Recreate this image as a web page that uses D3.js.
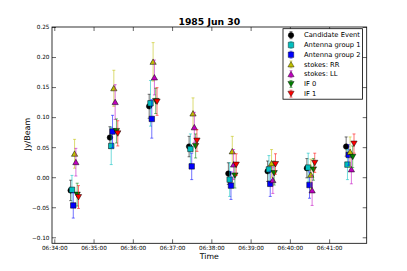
<!DOCTYPE html>
<html><head><meta charset="utf-8">
<script src="https://cdn.jsdelivr.net/npm/d3@7/dist/d3.min.js"></script>
<style>body{margin:0;background:#fff}svg{display:block}text{font-family:"DejaVu Sans",sans-serif}</style>
</head><body><div id="chart"></div>
<script>
const groupTimes = ["06:34:25","06:35:25","06:36:25","06:37:26","06:38:26","06:39:26","06:40:26","06:41:26"];
const seriesNames = ["Candidate Event","Antenna group 1","Antenna group 2","stokes: RR","stokes: LL","IF 0","IF 1"];
const seriesColors = ["#000000","#00bfbf","#0000ff","#bfbf00","#bf00bf","#008000","#ff0000"];
const seriesMarkers = ["circle","square","square","triangle-up","triangle-up","triangle-down","triangle-down"];
const seriesOffsetSec = [0,2,4,6,8,10,12];
const candidateValues = [-0.022,0.066,0.118,0.051,0.006,0.010,0.015,0.051];
const candidateErrors = [0.017,0.018,0.020,0.017,0.018,0.017,0.016,0.016];
const antenna1Values = [-0.021,0.052,0.123,0.047,-0.004,0.013,0.016,0.021];
const antenna1Errors = [0.024,0.031,0.038,0.025,0.028,0.023,0.024,0.025];
const antenna2Values = [-0.047,0.076,0.097,0.018,-0.014,-0.011,-0.013,0.037];
const antenna2Errors = [0.021,0.027,0.032,0.022,0.023,0.021,0.022,0.017];
const rrValues = [0.039,0.148,0.192,0.106,0.043,0.023,0.004,0.042];
const rrErrors = [0.024,0.030,0.032,0.026,0.025,0.023,0.026,0.025];
const llValues = [0.025,0.125,0.166,0.083,0.021,-0.005,-0.022,0.013];
const llErrors = [0.023,0.029,0.029,0.025,0.025,0.022,0.025,0.024];
const if0Values = [-0.029,0.077,0.127,0.052,0.003,0.007,0.013,0.034];
const if0Errors = [0.019,0.020,0.021,0.020,0.021,0.020,0.018,0.018];
const if1Values = [-0.033,0.073,0.126,0.061,0.021,0.022,0.024,0.056];
const if1Errors = [0.019,0.021,0.023,0.018,0.018,0.017,0.016,0.016];
const yTicks = [-0.10,-0.05,0.00,0.05,0.10,0.15,0.20,0.25];
const xTickLabels = ["06:34:00","06:35:00","06:36:00","06:37:00","06:38:00","06:39:00","06:40:00","06:41:00"];
const xDomain = ["06:33:56.5","06:41:57.4"];
const yDomain = [-0.11,0.25];

const allValues = [candidateValues,antenna1Values,antenna2Values,rrValues,llValues,if0Values,if1Values];
const allErrors = [candidateErrors,antenna1Errors,antenna2Errors,rrErrors,llErrors,if0Errors,if1Errors];

function parseT(s){const [h,m,sec]=s.split(":");return new Date(1985,5,30,+h,+m,0,Math.round(parseFloat(sec)*1000));}

const W=407,H=271;
const m={left:52,top:27,right:40.3,bottom:27.7};
const iw=W-m.left-m.right, ih=H-m.top-m.bottom;
const svg=d3.select("#chart").append("svg").attr("width",W).attr("height",H);
const g=svg.append("g").attr("transform",`translate(${m.left},${m.top})`);

function fitSize(str,target,weight){
  const t=svg.append("text").attr("font-size",10).attr("font-weight",weight||"normal").text(str);
  const w=t.node().getComputedTextLength(); t.remove(); return 10*target/w;
}
const tickFs=fitSize("06:34:00",25.7);
const legFs=fitSize("Candidate Event",56);
const titleFs=fitSize("1985 Jun 30",61.7,"bold");
const labFs=fitSize("Time",19);
const ylabFs=fitSize("Jy/Beam",32.7);

const x=d3.scaleTime().domain(xDomain.map(parseT)).range([0,iw]);
const y=d3.scaleLinear().domain(yDomain).range([ih,0]);

svg.append("text").attr("x",m.left+iw/2).attr("y",24.5).attr("text-anchor","middle")
 .attr("font-size",titleFs).attr("font-weight","bold").text("1985 Jun 30");

const tv=xTickLabels.map(parseT);
const fmtY=d=>d3.format(".2f")(d).replace("-","\u2212");
const xAxisB=d3.axisBottom(x).tickValues(tv).tickFormat(d3.timeFormat("%H:%M:%S")).tickSizeInner(-4).tickSizeOuter(0).tickPadding(2.5);
const xAxisT=d3.axisTop(x).tickValues(tv).tickFormat("").tickSizeInner(-4).tickSizeOuter(0);
const yAxisL=d3.axisLeft(y).tickValues(yTicks).tickFormat(fmtY).tickSizeInner(-4).tickSizeOuter(0).tickPadding(2.5);
const yAxisR=d3.axisRight(y).tickValues(yTicks).tickFormat("").tickSizeInner(-4).tickSizeOuter(0);
function style(sel){sel.select(".domain").remove();sel.selectAll("line").attr("stroke","#000").attr("stroke-width",0.6);
 sel.selectAll("text").attr("font-size",tickFs).attr("fill","#000").attr("font-family","DejaVu Sans, sans-serif");}
g.append("g").attr("transform",`translate(0,${ih})`).call(xAxisB).call(style);
g.append("g").call(xAxisT).call(style);
g.append("g").call(yAxisL).call(style);
g.append("g").attr("transform",`translate(${iw},0)`).call(yAxisR).call(style);
g.append("rect").attr("width",iw).attr("height",ih).attr("fill","none").attr("stroke","#000").attr("stroke-width",0.8);

svg.append("text").attr("x",m.left+iw/2).attr("y",259).attr("text-anchor","middle").attr("font-size",labFs).text("Time");
svg.append("text").attr("transform",`translate(30,${m.top+ih/2-1}) rotate(-90)`).attr("text-anchor","middle").attr("font-size",ylabFs).text("Jy/Beam");

const sym={circle:d3.symbolCircle,square:d3.symbolSquare,"triangle-up":d3.symbolTriangle,"triangle-down":d3.symbolTriangle};
const markerSize={circle:24,square:30,"triangle-up":17,"triangle-down":17};

const plot=g.append("g");
allValues.forEach((vals,si)=>{
  const col=seriesColors[si];
  const sg=plot.append("g");
  vals.forEach((v,i)=>{
    const t=new Date(parseT(groupTimes[i]).getTime()+seriesOffsetSec[si]*1000);
    const px=x(t), e=allErrors[si][i];
    const y1=y(v+e), y2=y(v-e);
    const eg=sg.append("g").attr("stroke",col).attr("stroke-opacity",0.55).attr("stroke-width",1);
    eg.append("line").attr("x1",px).attr("x2",px).attr("y1",y1).attr("y2",y2);
    eg.append("line").attr("x1",px-1.5).attr("x2",px+1.5).attr("y1",y1).attr("y2",y1);
    eg.append("line").attr("x1",px-1.5).attr("x2",px+1.5).attr("y1",y2).attr("y2",y2);
  });
  vals.forEach((v,i)=>{
    const t=new Date(parseT(groupTimes[i]).getTime()+seriesOffsetSec[si]*1000);
    const px=x(t), py=y(v);
    const kind=seriesMarkers[si];
    sg.append("path").attr("d",d3.symbol().type(sym[kind]).size(markerSize[kind])())
      .attr("transform",`translate(${px},${py})${kind==="triangle-down"?" rotate(180)":""}${kind.startsWith("triangle")?" translate(0,0.7)":""}`)
      .attr("fill",col).attr("stroke","#000").attr("stroke-width",0.5);
  });
});

const lg=svg.append("g").attr("transform","translate(283,28.7)");
lg.append("rect").attr("width",79.5).attr("height",70.5).attr("fill","#fff").attr("stroke","#000").attr("stroke-width",0.8);
seriesNames.forEach((n,i)=>{
  const cy=6.5+i*9.75, col=seriesColors[i], kind=seriesMarkers[i];
  lg.append("line").attr("x1",8).attr("x2",8).attr("y1",cy-3.5).attr("y2",cy+3.5).attr("stroke",col).attr("stroke-opacity",0.55);
  lg.append("line").attr("x1",6.5).attr("x2",9.5).attr("y1",cy-3.5).attr("y2",cy-3.5).attr("stroke",col).attr("stroke-opacity",0.55);
  lg.append("line").attr("x1",6.5).attr("x2",9.5).attr("y1",cy+3.5).attr("y2",cy+3.5).attr("stroke",col).attr("stroke-opacity",0.55);
  lg.append("path").attr("d",d3.symbol().type(sym[kind]).size(markerSize[kind])())
    .attr("transform",`translate(8,${cy})${kind==="triangle-down"?" rotate(180)":""}${kind.startsWith("triangle")?" translate(0,0.7)":""}`)
    .attr("fill",col).attr("stroke","#000").attr("stroke-width",0.4);
  lg.append("text").attr("x",21).attr("y",cy+2.3).attr("font-size",legFs).text(n);
});
</script></body></html>
